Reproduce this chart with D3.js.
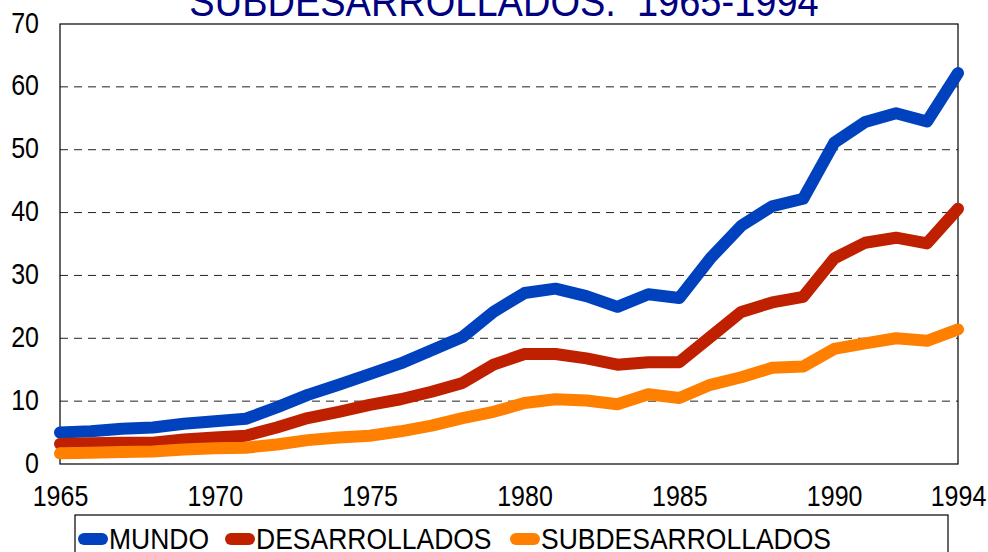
<!DOCTYPE html>
<html>
<head>
<meta charset="utf-8">
<script src="https://cdn.jsdelivr.net/npm/d3@7"></script>
<style>
  body { margin: 0; background: #fff; }
  svg { display: block; font-family: "Liberation Sans", Arial, sans-serif; }
</style>
</head>
<body>
<div id="chart"></div>
<script>
const FRAME_WIDTH = 988;
const FRAME_HEIGHT = 552;
const MARGINS = {left: 60, right: 30, top: 24, bottom: 88};

const VIS_WIDTH = FRAME_WIDTH - MARGINS.left - MARGINS.right;
const VIS_HEIGHT = FRAME_HEIGHT - MARGINS.top - MARGINS.bottom;

// data
const YEARS = d3.range(1965, 1995);
const MUNDO = [5.0, 5.2, 5.6, 5.8, 6.4, 6.8, 7.2, 9.0, 11.0, 12.6, 14.3, 16.0, 18.1,
  20.2, 24.2, 27.2, 27.9, 26.7, 25.0, 27.0, 26.4, 32.7, 37.9, 41.0, 42.2,
  51.1, 54.4, 55.8, 54.5, 62.2];
const DESARROLLADOS = [3.2, 3.3, 3.4, 3.4, 3.9, 4.2, 4.5, 5.8, 7.3, 8.3, 9.4, 10.3, 11.5,
  12.9, 15.8, 17.5, 17.5, 16.8, 15.8, 16.2, 16.2, 20.2, 24.2, 25.7, 26.6,
  32.7, 35.2, 36.0, 35.1, 40.6];
const SUBDESARROLLADOS = [1.7, 1.8, 1.9, 2.0, 2.3, 2.5, 2.6, 3.1, 3.8, 4.2, 4.5, 5.2, 6.1,
  7.3, 8.3, 9.7, 10.3, 10.1, 9.5, 11.1, 10.5, 12.6, 13.8, 15.3, 15.5,
  18.3, 19.2, 20.0, 19.6, 21.4];
const X_TICKS = [1965, 1970, 1975, 1980, 1985, 1990, 1994];
const Y_TICKS = [0, 10, 20, 30, 40, 50, 60, 70];
const TITLE = "SUBDESARROLLADOS.  1965-1994";

const SERIES = [
  {name: "MUNDO", values: MUNDO, color: "#0042BE"},
  {name: "DESARROLLADOS", values: DESARROLLADOS, color: "#BE2000"},
  {name: "SUBDESARROLLADOS", values: SUBDESARROLLADOS, color: "#FF8000"}
];

const TICK_FONT = 25;
const STRETCH = 1.2; // text in the reference is drawn taller than it is wide

const FRAME = d3.select("#chart")
  .append("svg")
    .attr("width", FRAME_WIDTH)
    .attr("height", FRAME_HEIGHT);

const X_SCALE = d3.scaleLinear().domain([1965, 1994]).range([0, VIS_WIDTH]);
const Y_SCALE = d3.scaleLinear().domain([0, 70]).range([VIS_HEIGHT, 0]);

const G = FRAME.append("g")
  .attr("transform", "translate(" + MARGINS.left + "," + MARGINS.top + ")");

// dashed gridlines
G.append("g")
  .selectAll("line")
  .data(Y_TICKS.filter(d => d > 0 && d < 70))
  .enter()
  .append("line")
    .attr("x1", 0)
    .attr("x2", VIS_WIDTH)
    .attr("y1", d => Y_SCALE(d))
    .attr("y2", d => Y_SCALE(d))
    .attr("stroke", "#222")
    .attr("stroke-width", 1)
    .attr("stroke-dasharray", "8,6");

// plot border
G.append("rect")
  .attr("x", 0).attr("y", 0)
  .attr("width", VIS_WIDTH).attr("height", VIS_HEIGHT)
  .attr("fill", "none")
  .attr("stroke", "#000")
  .attr("stroke-width", 1.2);

// y axis labels
const yAxis = G.append("g")
  .call(d3.axisLeft(Y_SCALE).tickValues(Y_TICKS).tickSize(0).tickPadding(21));
yAxis.select(".domain").remove();
yAxis.selectAll("text")
  .attr("font-size", TICK_FONT + "px").attr("fill", "#000")
  .attr("font-family", "Liberation Sans, Arial, sans-serif")
  .attr("dy", "0.27em")
  .attr("transform", "scale(1," + STRETCH + ")");

// x axis labels
const xAxis = G.append("g")
  .attr("transform", "translate(0," + VIS_HEIGHT + ")")
  .call(d3.axisBottom(X_SCALE).tickValues(X_TICKS).tickFormat(d3.format("d")).tickSize(0).tickPadding(17));
xAxis.select(".domain").remove();
xAxis.selectAll("text")
  .attr("font-size", TICK_FONT + "px").attr("fill", "#000")
  .attr("font-family", "Liberation Sans, Arial, sans-serif")
  .attr("transform", "scale(1," + STRETCH + ")");

// lines
const line = d3.line()
  .x((d, i) => X_SCALE(YEARS[i]))
  .y(d => Y_SCALE(d));

G.selectAll(".series")
  .data(SERIES)
  .enter()
  .append("path")
    .attr("class", "series")
    .attr("d", d => line(d.values))
    .attr("fill", "none")
    .attr("stroke", d => d.color)
    .attr("stroke-width", 12)
    .attr("stroke-linecap", "round")
    .attr("stroke-linejoin", "round");

// title (only its last line shows at the top edge)
FRAME.append("text")
  .attr("transform", "translate(504,16) scale(1,1.1)")
  .attr("text-anchor", "middle")
  .attr("font-size", "38px")
  .attr("fill", "#000080")
  .style("white-space", "pre")
  .text(TITLE);

// legend
const LEGEND = FRAME.append("g");
LEGEND.append("rect")
  .attr("x", 75).attr("y", 515)
  .attr("width", 873).attr("height", 60)
  .attr("fill", "#fff")
  .attr("stroke", "#000")
  .attr("stroke-width", 1.2);

const legendX = [78, 225, 510];
SERIES.forEach((s, i) => {
  LEGEND.append("line")
    .attr("x1", legendX[i] + 6).attr("x2", legendX[i] + 24)
    .attr("y1", 539).attr("y2", 539)
    .attr("stroke", s.color)
    .attr("stroke-width", 12)
    .attr("stroke-linecap", "round");
  LEGEND.append("text")
    .attr("transform", "translate(" + (legendX[i] + 31) + ",549) scale(1,1.12)")
    .attr("font-size", "26.5px")
    .attr("fill", "#000")
    .text(s.name);
});
</script>
</body>
</html>
